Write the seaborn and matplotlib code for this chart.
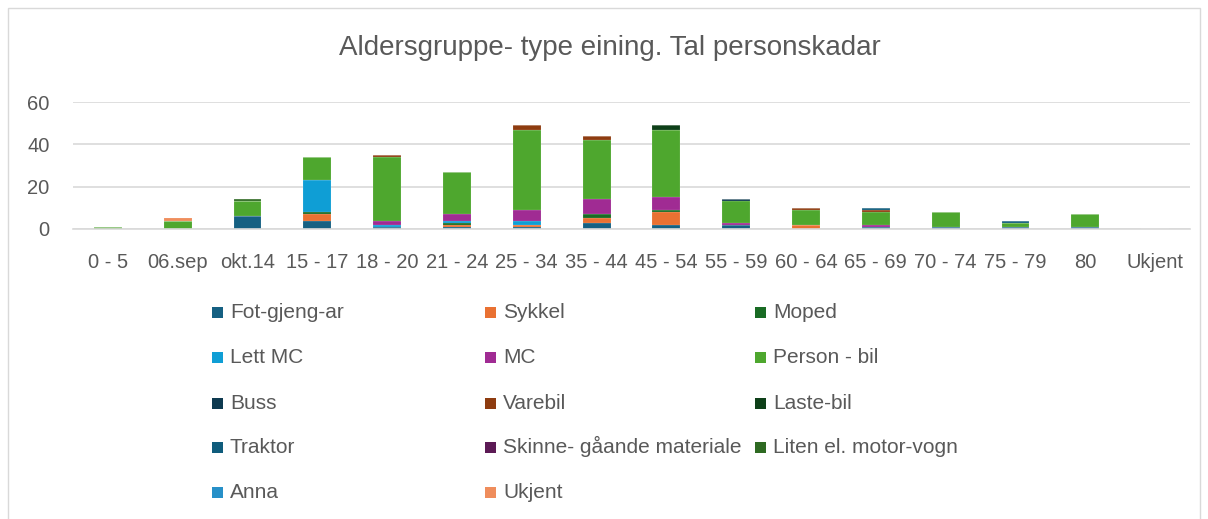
import pandas as pd
import seaborn as sns
import matplotlib.pyplot as plt
from matplotlib.patches import Rectangle

# age groups (x axis)
groups = ['0 - 5', '06.sep', 'okt.14', '15 - 17', '18 - 20', '21 - 24', '25 - 34', '35 - 44',
          '45 - 54', '55 - 59', '60 - 64', '65 - 69', '70 - 74', '75 - 79', '80', 'Ukjent']

# injured persons per vehicle type, one value per age group
fotgjengar = [0, 0, 6, 4, 1, 1, 1, 3, 2, 2, 0, 1, 1, 1, 1, 0]
sykkel     = [0, 0, 0, 3, 0, 1, 1, 2, 6, 0, 2, 0, 0, 0, 0, 0]
moped      = [0, 0, 0, 1, 0, 1, 0, 2, 1, 0, 0, 0, 0, 0, 0, 0]
lett_mc    = [0, 0, 0, 15, 1, 1, 2, 0, 0, 0, 0, 0, 0, 0, 0, 0]
mc         = [0, 0, 0, 0, 2, 3, 5, 7, 6, 1, 0, 1, 0, 0, 0, 0]
personbil  = [1, 4, 7, 11, 30, 20, 38, 28, 32, 10, 7, 6, 7, 2, 6, 0]
buss       = [0, 0, 0, 0, 0, 0, 0, 0, 0, 1, 0, 0, 0, 0, 0, 0]
varebil    = [0, 0, 0, 0, 1, 0, 2, 2, 0, 0, 1, 1, 0, 0, 0, 0]
lastebil   = [0, 0, 0, 0, 0, 0, 0, 0, 2, 0, 0, 0, 0, 0, 0, 0]
traktor    = [0, 0, 0, 0, 0, 0, 0, 0, 0, 0, 0, 1, 0, 1, 0, 0]
skinne     = [0, 0, 0, 0, 0, 0, 0, 0, 0, 0, 0, 0, 0, 0, 0, 0]
liten_el   = [0, 0, 1, 0, 0, 0, 0, 0, 0, 0, 0, 0, 0, 0, 0, 0]
anna       = [0, 0, 0, 0, 0, 0, 0, 0, 0, 0, 0, 0, 0, 0, 0, 0]
ukjent     = [0, 1, 0, 0, 0, 0, 0, 0, 0, 0, 0, 0, 0, 0, 0, 0]

types = ['Fot-gjeng-ar', 'Sykkel', 'Moped', 'Lett MC', 'MC', 'Person - bil', 'Buss', 'Varebil',
         'Laste-bil', 'Traktor', 'Skinne- gåande materiale', 'Liten el. motor-vogn', 'Anna', 'Ukjent']
series = [fotgjengar, sykkel, moped, lett_mc, mc, personbil, buss, varebil,
          lastebil, traktor, skinne, liten_el, anna, ukjent]
colors = ['#156082', '#E97132', '#196B24', '#0F9ED5', '#A02B93', '#4EA72E', '#0E3A50', '#8E3C10',
          '#0E4019', '#0F5C7C', '#5C1A55', '#2E6A22', '#2790C8', '#EF8D5C']

rows = []
for t, vals in zip(types, series):
    for g, v in zip(groups, vals):
        rows.append({'group': g, 'type': t, 'n': v})
data = pd.DataFrame(rows)
palette = dict(zip(types, colors))

sns.set_theme(style='white')
plt.rcParams['font.family'] = ['Liberation Sans', 'DejaVu Sans']

W, H = 1208, 519
fig = plt.figure(figsize=(W / 100, H / 100), dpi=100)
ax = fig.add_axes([73 / W, 1 - 229 / H, (1190 - 73) / W, 127 / H])

# seaborn stacks the last hue level at the bottom, so reverse the order
sns.histplot(data=data, x='group', weights='n', hue='type', hue_order=types[::-1],
             multiple='stack', discrete=True, shrink=0.4, palette=palette, alpha=1,
             edgecolor=(1, 1, 1, 0.3), linewidth=0.3, legend=False, ax=ax)

ax.set_ylim(0, 60)
ax.set_xlim(-0.5, len(groups) - 0.5)
ax.set_yticks([0, 20, 40, 60])
ax.yaxis.grid(True, color='#d9d9d9', linewidth=1.2)
ax.set_axisbelow(True)
ax.set_xlabel('')
ax.set_ylabel('')
for s in ['top', 'right', 'left']:
    ax.spines[s].set_visible(False)
ax.spines['bottom'].set_color('#d9d9d9')
ax.spines['bottom'].set_linewidth(1.2)
ax.tick_params(axis='x', length=0, labelsize=14.5, colors='#595959', pad=17)
ax.tick_params(axis='y', length=0, labelsize=14.5, colors='#595959', pad=17)

fig.text(0.505, 1 - 48 / H, 'Aldersgruppe- type eining. Tal personskadar', ha='center', va='center',
         fontsize=20, color='#595959')

# legend: three fixed columns, filled row by row, baselines aligned
col_x = [212, 485, 755]
row_y = [312, 357, 403, 447, 492]
sw = 11
for i, (t, c) in enumerate(zip(types, colors)):
    x0, yc = col_x[i % 3], row_y[i // 3]
    fig.patches.append(Rectangle((x0 / W, 1 - (yc + sw / 2) / H), sw / W, sw / H,
                                 transform=fig.transFigure, facecolor=c, edgecolor='none'))
    fig.text((x0 + sw + 7) / W, 1 - (yc + 6) / H, t, ha='left', va='baseline',
             fontsize=15, color='#595959')

fig.patches.append(Rectangle((8 / W, -0.05), 1192 / W, 1.05 - 8 / H, transform=fig.transFigure,
                             fill=False, edgecolor='#d9d9d9', linewidth=1))

fig.savefig('out.png', dpi=100)
